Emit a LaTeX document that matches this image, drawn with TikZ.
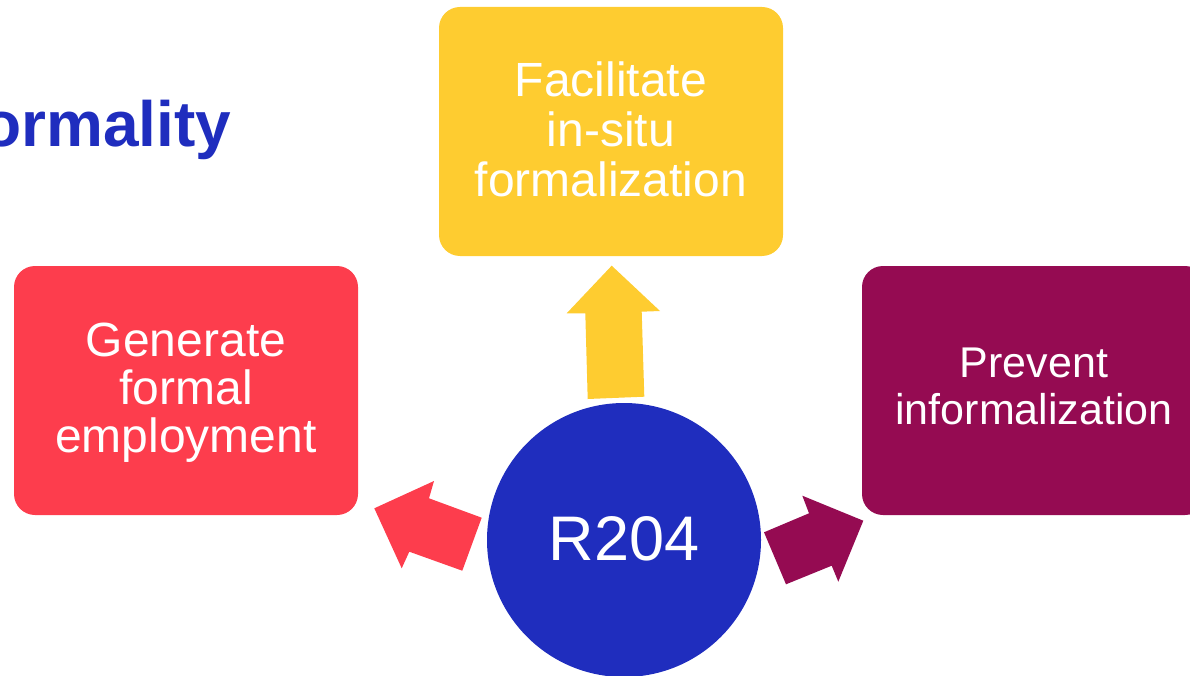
\documentclass[tikz,border=0pt]{standalone}
\usepackage{fontspec}
\setmainfont{Liberation Sans}
\definecolor{boxyellow}{HTML}{FECC30}
\definecolor{boxred}{HTML}{FD3D4D}
\definecolor{boxpurple}{HTML}{950B52}
\definecolor{hubblue}{HTML}{1F2DBE}
\tikzset{
  goalbox/.style={rectangle, rounded corners=21pt, minimum width=344pt, minimum height=249pt, inner sep=0pt},
  goaltext/.style={inner sep=0pt, text=white, align=center},
  blockarrow/.style={draw=none},
}
\begin{document}
\begin{tikzpicture}[x=1pt,y=-1pt]
\useasboundingbox (0,0) rectangle (1190,676);
% title (cut by the left edge)
\node[anchor=base west, inner sep=0pt, text=hubblue, font=\fontsize{64}{70}\selectfont\bfseries] (title) at (-18,147) {ormality};
% boxes
\node[goalbox, fill=boxyellow] (top) at (611,131.5) {};
\node[goalbox, fill=boxred] (left) at (186,390.5) {};
\node[goalbox, fill=boxpurple] (right) at (1034,390.5) {};
\node[goaltext, font=\fontsize{48}{50}\selectfont] (toptext) at ([yshift=2pt]top.center) {Facilitate\\in-situ\\formalization};
\node[goaltext, font=\fontsize{48}{48}\selectfont] (lefttext) at ([yshift=-2pt]left.center) {Generate\\formal\\employment};
\node[goaltext, font=\fontsize{43}{47}\selectfont] (righttext) at ([yshift=4pt]right.center) {Prevent\\informalization};
% hub
\node[circle, fill=hubblue, minimum size=274pt, inner sep=0pt, text=white, font=\fontsize{63}{63}\selectfont] (hub) at (624,540) {\raisebox{3pt}{R204}};
% block arrows
\fill[boxyellow, blockarrow] (587.7,399) -- (585.3,313.3) -- (566.7,313.3) -- (611.7,265.7) -- (660,311) -- (641.7,311.7) -- (644.3,396.7) -- cycle;
\fill[boxred, blockarrow] (481.7,517.7) -- (429,498.3) -- (434,481) -- (374.3,508.3) -- (401.7,568.3) -- (409.3,551.7) -- (462.3,570.7) -- cycle;
\fill[boxpurple, blockarrow] (764,532.3) -- (809,513.3) -- (802.3,495.7) -- (863.3,520.7) -- (838.3,581.7) -- (831.7,565.7) -- (786,584.3) -- cycle;
\end{tikzpicture}
\end{document}
